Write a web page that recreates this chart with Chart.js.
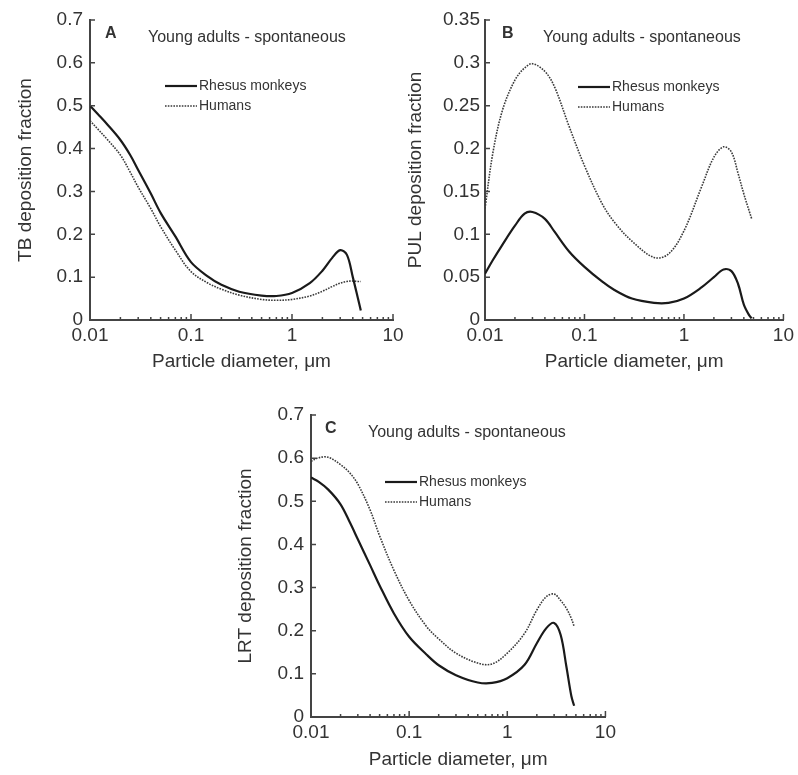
<!DOCTYPE html>
<html>
<head>
<meta charset="utf-8">
<script src="https://cdn.jsdelivr.net/npm/chart.js@4"></script>
<style>
  body { margin: 0; background: #fff; width: 798px; height: 775px; position: relative; overflow: hidden; }
  canvas { position: absolute; }
</style>
</head>
<body>
<canvas id="chartA" width="410" height="380" style="left:0;top:0"></canvas>
<canvas id="chartB" width="398" height="380" style="left:400px;top:0"></canvas>
<canvas id="chartC" width="420" height="395" style="left:200px;top:380px"></canvas>
<script>
// particle diameter, um
const diameters = [0.01, 0.012, 0.015, 0.02, 0.025, 0.03, 0.04, 0.05, 0.07, 0.1, 0.15, 0.2, 0.3, 0.5, 0.7, 1, 1.5, 2, 2.5, 3, 3.5, 4, 4.5, 4.8];

// A: TB deposition
const tbRhesus = [0.50, 0.48, 0.455, 0.42, 0.385, 0.35, 0.295, 0.25, 0.195, 0.135, 0.10, 0.082, 0.066, 0.057, 0.056, 0.063, 0.086, 0.115, 0.145, 0.163, 0.152, 0.10, 0.05, 0.022];
const tbHumans = [0.465, 0.445, 0.42, 0.385, 0.345, 0.31, 0.26, 0.218, 0.163, 0.113, 0.085, 0.072, 0.058, 0.048, 0.046, 0.048, 0.056, 0.067, 0.078, 0.086, 0.09, 0.091, 0.09, 0.09];

// B: PUL deposition
const pulRhesus = [0.054, 0.07, 0.088, 0.110, 0.124, 0.126, 0.118, 0.103, 0.08, 0.062, 0.045, 0.035, 0.025, 0.02, 0.02, 0.025, 0.038, 0.05, 0.059, 0.057, 0.042, 0.018, 0.006, 0.002];
const pulHumans = [0.13, 0.195, 0.245, 0.28, 0.294, 0.299, 0.29, 0.272, 0.226, 0.18, 0.136, 0.114, 0.092, 0.073, 0.077, 0.104, 0.155, 0.19, 0.202, 0.196, 0.171, 0.147, 0.128, 0.118];

// C: LRT deposition
const lrtRhesus = [0.555, 0.545, 0.527, 0.493, 0.45, 0.412, 0.352, 0.305, 0.24, 0.186, 0.145, 0.12, 0.097, 0.08, 0.079, 0.09, 0.121, 0.171, 0.206, 0.218, 0.19, 0.117, 0.048, 0.026];
const lrtHumans = [0.593, 0.601, 0.602, 0.585, 0.565, 0.54, 0.48, 0.42, 0.34, 0.27, 0.21, 0.181, 0.148, 0.125, 0.123, 0.148, 0.194, 0.248, 0.279, 0.285, 0.27, 0.252, 0.228, 0.21];

const xTicks = [0.01, 0.1, 1, 10];
const seriesNames = ["Rhesus monkeys", "Humans"];
const subtitle = "Young adults - spontaneous";

const textColor = "#333";
const axisColor = "#444";
const font = "Liberation Sans, Arial, sans-serif";

function points(ys){
    return diameters.map((x, i) => ({x: x, y: ys[i]}));
}

// inward tick marks, panel letter, subtitle and legend
const decorPlugin = {
    id: "decor",
    afterDraw(chart, args, opts){
        const ctx = chart.ctx;
        const area = chart.chartArea;
        const xs = chart.scales.x;
        const ys = chart.scales.y;
        ctx.save();
        ctx.strokeStyle = axisColor;
        ctx.lineWidth = 1.5;
        ctx.beginPath();
        ys.ticks.forEach(t => {
            let y = ys.getPixelForValue(t.value);
            ctx.moveTo(area.left, y);
            ctx.lineTo(area.left + 5, y);
        });
        for(let d = 0.01; d < 10; d *= 10){
            for(let m = 1; m <= 10; m++){
                let x = xs.getPixelForValue(d * m);
                let len = (m == 1 || m == 10) ? 6 : 3;
                ctx.moveTo(x, area.bottom);
                ctx.lineTo(x, area.bottom - len);
            }
        }
        ctx.stroke();

        ctx.fillStyle = textColor;
        ctx.textBaseline = "middle";
        ctx.font = "bold 16px " + font;
        ctx.fillText(opts.letter, area.left + opts.letterX, area.top + 14);
        ctx.font = "16px " + font;
        ctx.fillText(subtitle, area.left + opts.textX, area.top + 18);

        ctx.font = "14px " + font;
        chart.data.datasets.forEach((ds, i) => {
            let y = area.top + opts.legY + i * 20;
            let x0 = area.left + opts.legX;
            ctx.beginPath();
            ctx.strokeStyle = ds.borderColor;
            ctx.lineWidth = ds.borderWidth;
            ctx.setLineDash(ds.borderDash || []);
            ctx.moveTo(x0, y);
            ctx.lineTo(x0 + 32, y);
            ctx.stroke();
            ctx.setLineDash([]);
            ctx.fillText(ds.label, x0 + 34, y);
        });
        ctx.restore();
    }
};

function makeChart(id, rhesus, humans, cfg){
    new Chart(document.getElementById(id), {
        type: "line",
        data: {
            datasets: [{
                label: seriesNames[0],
                data: points(rhesus),
                borderColor: "#1a1a1a",
                borderWidth: 2.2,
                pointRadius: 0,
                tension: 0.35
            }, {
                label: seriesNames[1],
                data: points(humans),
                borderColor: "#3a3a3a",
                borderWidth: 1.6,
                borderDash: [1.6, 1.2],
                pointRadius: 0,
                tension: 0.35
            }]
        },
        options: {
            responsive: false,
            animation: false,
            layout: { padding: cfg.padding },
            plugins: {
                legend: { display: false },
                tooltip: { enabled: false },
                decor: cfg.decor
            },
            scales: {
                x: {
                    type: "logarithmic",
                    min: 0.01,
                    max: 10,
                    afterBuildTicks: (s) => { s.ticks = xTicks.map(v => ({value: v})); },
                    afterFit: (s) => { s.height = cfg.xHeight; },
                    grid: { display: false, drawTicks: false },
                    border: { display: true, color: axisColor, width: 2 },
                    ticks: {
                        autoSkip: false, maxRotation: 0, padding: 4,
                        color: textColor, font: { family: font, size: 19 },
                        callback: (v) => String(v)
                    },
                    title: {
                        display: true, text: "Particle diameter, \u03bcm", color: textColor,
                        font: { family: font, size: 19 }, padding: { top: 0, bottom: cfg.xTitlePad }
                    }
                },
                y: {
                    min: 0,
                    max: cfg.yMax,
                    afterFit: (s) => { s.width = cfg.yWidth; },
                    grid: { display: false, drawTicks: false },
                    border: { display: true, color: axisColor, width: 2 },
                    ticks: {
                        stepSize: cfg.yStep, padding: cfg.yTickPad,
                        color: textColor, font: { family: font, size: 19 },
                        callback: (v) => String(Number(v.toFixed(2)))
                    },
                    title: {
                        display: true, text: cfg.yTitle, color: textColor,
                        font: { family: font, size: 19 }, padding: { top: cfg.yTitlePad, bottom: 0 }
                    }
                }
            }
        },
        plugins: [decorPlugin]
    });
}

makeChart("chartA", tbRhesus, tbHumans, {
    padding: { left: 0, top: 20, right: 17, bottom: 0 },
    xHeight: 60, yWidth: 90, yMax: 0.7, yStep: 0.1, yTickPad: 7,
    yTitle: "TB deposition fraction", yTitlePad: 14, xTitlePad: 7,
    decor: { letter: "A", letterX: 15, textX: 58, legX: 75, legY: 66 }
});

makeChart("chartB", pulRhesus, pulHumans, {
    padding: { left: 0, top: 20, right: 13, bottom: 0 },
    xHeight: 60, yWidth: 85, yMax: 0.35, yStep: 0.05, yTickPad: 5,
    yTitle: "PUL deposition fraction", yTitlePad: 4, xTitlePad: 7,
    decor: { letter: "B", letterX: 17, textX: 58, legX: 93, legY: 67 }
});

makeChart("chartC", lrtRhesus, lrtHumans, {
    padding: { left: 0, top: 35, right: 7, bottom: 0 },
    xHeight: 58, yWidth: 111, yMax: 0.7, yStep: 0.1, yTickPad: 7,
    yTitle: "LRT deposition fraction", yTitlePad: 34, xTitlePad: 4,
    decor: { letter: "C", letterX: 14, textX: 57, legX: 74, legY: 67 }
});
</script>
</body>
</html>
